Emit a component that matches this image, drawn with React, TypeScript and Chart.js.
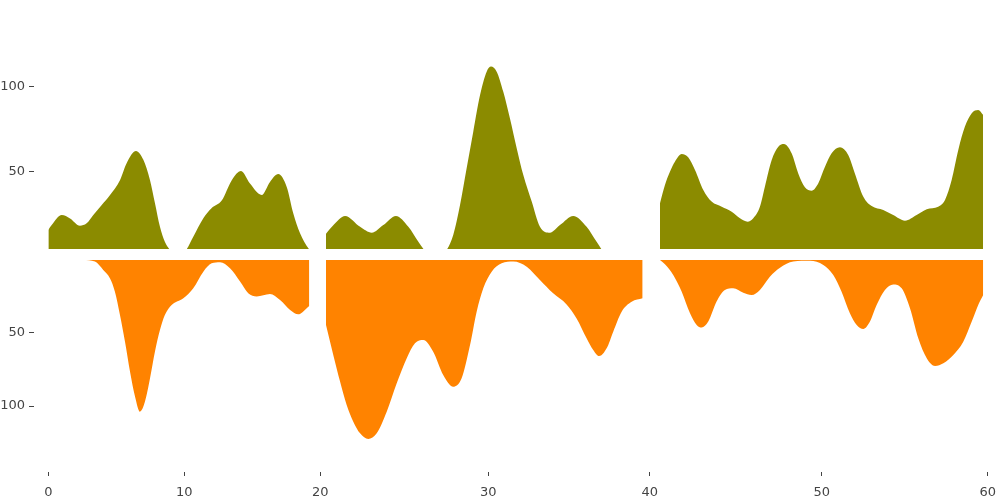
import React, { useEffect, useRef } from "react";
import { Chart, registerables } from "chart.js";

Chart.register(...registerables);

// ---- data ----
// upper panel (olive), three segments
const upperX1 = [0, 0.25, 0.99, 1.6, 2.33, 2.82, 3.31, 3.93, 4.54, 5.27, 5.76, 6.45, 6.99, 7.48, 7.84, 8.21, 8.57, 9.07, 9.5, 10.05, 10.66, 11.4, 12.0, 12.75, 13.49, 14.17, 14.83, 15.69, 16.3, 16.91, 17.53, 18.01, 18.51, 19.12, 19.24];
const upperY1 = [15.7, 18.6, 24.5, 22.5, 18.2, 19.6, 24.5, 30.4, 36.3, 45, 55, 62.2, 57, 45, 31.6, 17.6, 8.8, 3, 1, 3, 11.8, 22.6, 28.5, 33, 45, 50.4, 43, 36.3, 44, 48.6, 41, 25.5, 13.8, 5, 4];

const upperX2 = [19.95, 20.4, 21.13, 22.06, 22.78, 23.5, 24.28, 25.05, 25.67, 26.22, 26.7, 27.26, 27.83, 28.25, 28.66, 29.07, 29.49, 29.9, 30.17, 30.52, 30.93, 31.34, 31.76, 32.17, 32.69, 33.2, 33.82, 34.44, 35.26, 36.09, 36.71, 37.23, 38.15, 39.57];
const upperY2 = [13.5, 18.5, 24, 17.6, 14.1, 18.6, 24, 17.6, 8.8, 2, 0, 2, 12.8, 30.4, 52, 73.5, 95.1, 108.8, 111.8, 108.8, 97, 81.4, 63.8, 48, 32.4, 17.6, 14.1, 18.6, 24, 17.6, 8.8, 2, 0, 0];

const upperX3 = [40.26, 40.56, 40.86, 41.16, 41.57, 41.96, 42.37, 42.87, 43.37, 43.98, 44.58, 45.08, 45.54, 45.88, 46.28, 46.58, 46.99, 47.39, 47.73, 48.19, 48.59, 48.99, 49.4, 49.8, 50.2, 50.6, 51.1, 51.6, 52.0, 52.51, 53.01, 53.71, 54.31, 55.02, 55.72, 56.33, 57.02, 57.43, 57.83, 58.23, 58.63, 59.04, 59.43, 59.73];
const upperY3 = [31.4, 42.2, 50, 55.9, 60.4, 58.5, 51, 39.2, 32.4, 29.4, 26.5, 22.6, 20.6, 22.6, 29.4, 41.2, 56.9, 64.7, 66.3, 60.8, 49, 40.8, 38.8, 43.2, 52.9, 60.8, 64.3, 59.8, 49, 35.3, 29.8, 27.5, 24.5, 21.2, 24.5, 27.9, 29.4, 33.4, 45.1, 62.8, 76.5, 84.4, 86.3, 83.4];

// lower panel (orange, drawn downward), three segments
const lowerX1 = [2.57, 3.43, 4.04, 4.54, 4.9, 5.27, 5.64, 6.01, 6.38, 6.74, 7.11, 7.48, 7.84, 8.21, 8.57, 9.07, 9.93, 10.66, 11.4, 12.01, 12.63, 13.36, 14.1, 14.7, 15.32, 16.3, 17.04, 17.78, 18.38, 19.0, 19.19];
const lowerY1 = [0, 1.1, 6.8, 12.6, 21.7, 37.7, 56, 76.5, 93.6, 103.9, 97, 81, 62.8, 48, 37.7, 30.8, 26.2, 19.4, 8, 2.3, 1.6, 5.7, 14.8, 22.8, 25, 23.3, 27.4, 34.2, 37.2, 33, 31.5];

const lowerX2 = [19.95, 20.4, 20.82, 21.23, 21.64, 22.06, 22.57, 23.09, 23.71, 24.33, 24.95, 25.46, 25.98, 26.59, 27.21, 27.83, 28.35, 28.87, 29.28, 29.69, 30.21, 30.83, 31.55, 32.38, 33.2, 34.02, 34.85, 35.47, 36.09, 36.5, 36.87, 37.33, 37.74, 38.26, 38.88, 39.56];
const lowerY2 = [44.5, 65, 83.3, 99.3, 110.7, 118.7, 122.6, 118.7, 103.9, 84.5, 67.3, 57.1, 54.8, 62.8, 78.8, 86.8, 81, 58.2, 35.4, 19.4, 8, 2.3, 1.1, 4.6, 13.7, 22.8, 30.4, 40, 53.6, 61.6, 65.8, 60.5, 49.1, 35.4, 28.6, 26.2];

const lowerX3 = [40.26, 40.56, 41.06, 41.57, 42.07, 42.47, 42.77, 43.17, 43.67, 44.17, 44.67, 45.28, 45.78, 46.28, 46.88, 47.49, 48.29, 49.3, 50.1, 50.7, 51.2, 51.7, 52.11, 52.51, 52.91, 53.31, 53.81, 54.31, 54.82, 55.32, 55.82, 56.33, 56.83, 57.33, 57.93, 58.53, 59.04, 59.43, 59.73];
const lowerY3 = [0, 3, 10.3, 21.7, 36.5, 44.5, 46.3, 42.2, 28.5, 20.5, 19.4, 22.4, 24, 20.5, 11.4, 5.3, 1.1, 0.5, 3.4, 10.3, 21.7, 36.5, 44.5, 47.3, 42.2, 30.8, 20.5, 16.7, 19.4, 33, 53.6, 67.3, 72.6, 70.8, 65, 56, 42.2, 30.8, 24];

// tick labels
const xTicks1 = [0, 10, 20];
const xTicks2 = [30, 40];
const xTicks3 = [50, 60];
const yTicks = [50, 100];

const OLIVE = "#8b8b00";
const ORANGE = "#ff8300";
const TEXT = "#444444";
const FONT = { family: "DejaVu Sans", size: 13 };

const pts = (xs: number[], ys: number[]) => xs.map((x, i) => ({ x, y: ys[i] }));

const xAxis = (lo: number, hi: number, ticks: number[], order: number, share: number) => ({
  type: "linear",
  axis: "x",
  position: "bottom",
  stack: "bottomStack",
  stackWeight: share,
  weight: order,
  min: lo,
  max: hi,
  afterBuildTicks: (s: any) => {
    s.ticks = ticks.map((v) => ({ value: v }));
  },
  afterFit: (s: any) => {
    s.height = 28;
    s.paddingLeft = 0;
    s.paddingRight = 0;
  },
  grid: { drawOnChartArea: false, drawTicks: true, tickLength: 4, tickColor: TEXT, tickWidth: 1 },
  border: { display: false },
  ticks: { color: TEXT, font: FONT, padding: 9, maxRotation: 0, autoSkip: false },
});

const yAxis = (lo: number, hi: number, reverse: boolean, order: number, share: number) => ({
  type: "linear",
  axis: "y",
  position: "left",
  stack: "leftStack",
  stackWeight: share,
  weight: order,
  reverse,
  min: lo,
  max: hi,
  afterBuildTicks: (s: any) => {
    s.ticks = yTicks.map((v) => ({ value: v }));
  },
  afterFit: (s: any) => {
    s.width = 34;
    s.paddingTop = 0;
    s.paddingBottom = 0;
  },
  grid: { drawOnChartArea: false, drawTicks: true, tickLength: 5, tickColor: TEXT, tickWidth: 1 },
  border: { display: false },
  ticks: { color: TEXT, font: FONT, padding: 4, autoSkip: false },
});

const upperSet = (xs: number[], ys: number[], xId: string) => ({
  data: pts(xs, ys),
  xAxisID: xId,
  yAxisID: "yTop",
  borderWidth: 0,
  borderColor: "rgba(0,0,0,0)",
  backgroundColor: OLIVE,
  pointRadius: 0,
  cubicInterpolationMode: "monotone",
  fill: { target: "start", above: OLIVE, below: "rgba(0,0,0,0)" },
});

const lowerSet = (xs: number[], ys: number[], xId: string) => ({
  data: pts(xs, ys),
  xAxisID: xId,
  yAxisID: "yBot",
  borderWidth: 0,
  borderColor: "rgba(0,0,0,0)",
  backgroundColor: ORANGE,
  pointRadius: 0,
  cubicInterpolationMode: "monotone",
  fill: "origin",
});

export default function App() {
  const ref = useRef<HTMLCanvasElement | null>(null);

  useEffect(() => {
    if (!ref.current) return;
    const chart = new Chart(ref.current, {
      type: "line",
      data: {
        datasets: [
          upperSet(upperX1, upperY1, "x1"),
          upperSet(upperX2, upperY2, "x2"),
          upperSet(upperX3, upperY3, "x3"),
          lowerSet(lowerX1, lowerY1, "x1"),
          lowerSet(lowerX2, lowerY2, "x2"),
          lowerSet(lowerX3, lowerY3, "x3"),
        ] as any,
      },
      options: {
        animation: false,
        responsive: true,
        maintainAspectRatio: false,
        events: [],
        layout: { padding: { top: 20, right: 10, left: 0, bottom: 0 } },
        plugins: { legend: { display: false }, tooltip: { enabled: false } },
        scales: {
          x1: xAxis(-1.05, 20.05, xTicks1, 1, 287),
          x2: xAxis(19.64, 40.14, xTicks2, 2, 331),
          x3: xAxis(39.78, 60.14, xTicks3, 3, 338),
          yTop: yAxis(4.53, 139.2, false, 2, 229),
          yBot: yAxis(-7.53, 145.2, true, 1, 223),
        } as any,
      },
    });
    return () => chart.destroy();
  }, []);

  return (
    <div style={{ position: "fixed", left: 0, top: 0, width: 1000, height: 500, background: "#fff" }}>
      <canvas ref={ref} />
    </div>
  );
}
